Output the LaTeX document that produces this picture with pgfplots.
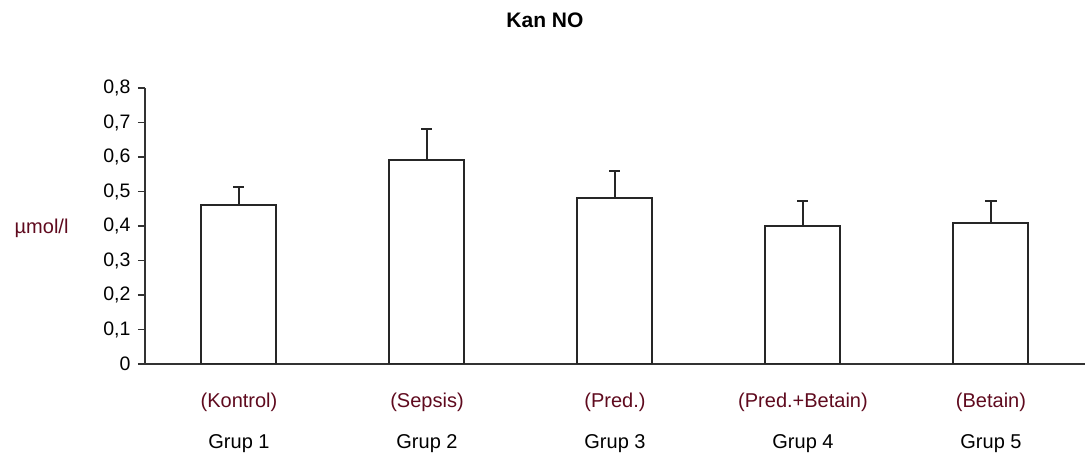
\documentclass[border=0pt]{standalone}
\usepackage{pgfplots}
\pgfplotsset{compat=1.18}
\usepackage{fontspec}
\setmainfont{Liberation Sans}
\definecolor{lblred}{RGB}{95,10,30}
\definecolor{axgray}{RGB}{50,50,50}
\begin{document}
\begin{tikzpicture}
\begin{axis}[
  at={(0pt,0pt)}, anchor=south west,
  scale only axis, width=940pt, height=276pt,
  xmin=-0.5, xmax=4.5, ymin=0, ymax=0.8,
  ybar, bar width=75pt,
  axis x line*=bottom, axis y line*=left,
  axis line style={-, line width=1.8pt, axgray},
  xtick={0,1,2,3,4},
  xticklabels={
    {\textcolor{lblred}{(Kontrol)}\\[17pt]Grup 1},
    {\textcolor{lblred}{(Sepsis)}\\[17pt]Grup 2},
    {\textcolor{lblred}{(Pred.)}\\[17pt]Grup 3},
    {\textcolor{lblred}{(Pred.+Betain)}\\[17pt]Grup 4},
    {\textcolor{lblred}{(Betain)}\\[17pt]Grup 5}},
  xticklabel style={align=center, anchor=north, inner sep=0pt, yshift=-22pt, font=\fontsize{20}{24}\selectfont},
  x tick style={draw=none},
  ytick={0,0.1,0.2,0.3,0.4,0.5,0.6,0.7,0.8},
  tick align=outside, major tick length=7pt,
  y tick style={line width=1.6pt, axgray},
  yticklabel style={xshift=-4pt, font=\fontsize{19.5}{23}\selectfont, /pgf/number format/.cd, use comma, fixed, precision=1, assume math mode=true},
  ylabel={µmol/l},
  ylabel style={rotate=-90, at={(axis description cs:-0.110,0.49)}, anchor=center, text=lblred, font=\fontsize{20}{24}\selectfont},
  title={Kan NO},
  title style={at={(axis description cs:0.4255,1.246)}, anchor=center, yshift=0pt, font=\fontsize{21}{25}\selectfont\bfseries},
  every axis title shift=0pt,
]
\addplot[fill=white, draw=black!85, line width=2pt,
  error bars/.cd, y dir=plus, y explicit, error mark=|,
  error bar style={line width=2pt, black!85},
  error mark options={line width=2pt, mark size=5.5pt, black!85}]
  coordinates {
    (0,0.46) +- (0,0.053)
    (1,0.59) +- (0,0.091)
    (2,0.48) +- (0,0.080)
    (3,0.40) +- (0,0.072)
    (4,0.41) +- (0,0.062)
  };
\end{axis}
\pgfresetboundingbox
\path[use as bounding box] (-145pt,-91pt) rectangle (943pt,364pt);
\end{tikzpicture}
\end{document}
